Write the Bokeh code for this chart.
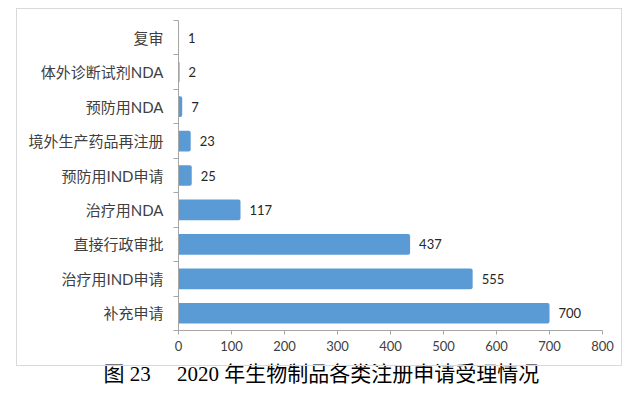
from bokeh.plotting import figure
from bokeh.models import Range1d, FixedTicker, Title, InlineStyleSheet
from bokeh.core.properties import value
from bokeh.embed import file_html
from bokeh.resources import INLINE

# categories listed top to bottom as in the chart
categories = ["复审", "体外诊断试剂NDA", "预防用NDA", "境外生产药品再注册", "预防用IND申请",
              "治疗用NDA", "直接行政审批", "治疗用IND申请", "补充申请"]
counts = [1, 2, 7, 23, 25, 117, 437, 555, 700]
x_ticks = [0, 100, 200, 300, 400, 500, 600, 700, 800]
caption = "图 23\u3000 2020 年生物制品各类注册申请受理情况"

n = len(categories)
ypos = [n - i for i in range(n)]

FL, FB = 178, 330  # frame left / bottom in canvas pixels

p = figure(width=638, height=393, output_backend="svg", toolbar_location=None,
           x_range=Range1d(0, 800), y_range=Range1d(0.5, n + 0.5),
           min_border_left=FL, min_border_right=36, min_border_top=20, min_border_bottom=393 - FB)
p.outline_line_color = None
p.xgrid.visible = False
p.ygrid.visible = False
p.background_fill_color = "white"
p.border_fill_color = "white"

bar_color = "#5B9BD5"
p.hbar(y=ypos, right=counts, left=0, height=0.6, color=bar_color, line_color=None,
       border_radius=(0, 2, 2, 0))
p.text(x=counts, y=ypos, text=[str(c) for c in counts], x_offset=9,
       text_baseline="middle", text_align="left", text_font=value("Lato"),
       text_font_size="13px", text_color="#262626")

axis_gray = "#A6A6A6"
xa = p.xaxis[0]
xa.ticker = FixedTicker(ticks=x_ticks, minor_ticks=[])
xa.axis_line_color = axis_gray
xa.major_tick_line_color = axis_gray
xa.major_tick_out = 4
xa.major_tick_in = 0
xa.minor_tick_line_color = None
xa.major_label_text_font = "Lato"
xa.major_label_text_font_size = "13px"
xa.major_label_text_color = "#404040"
xa.major_label_standoff = 6

ya = p.yaxis[0]
ya.ticker = FixedTicker(ticks=ypos, minor_ticks=[k + 0.5 for k in range(n + 1)])
ya.major_label_overrides = {y: c for y, c in zip(ypos, categories)}
ya.axis_line_color = axis_gray
ya.major_tick_line_color = None
ya.major_tick_out = 0
ya.major_tick_in = 0
ya.minor_tick_line_color = axis_gray
ya.minor_tick_out = 5
ya.minor_tick_in = 0
ya.major_label_text_font = "Lato, 'Noto Sans CJK SC'"
ya.major_label_text_font_size = "15px"
ya.major_label_text_color = "#404040"
ya.major_label_standoff = 10

cap = Title(text=caption, align="left", offset=-75,
            text_font="'Liberation Serif', 'Noto Sans CJK SC'",
            text_font_size="21px", text_font_style="normal", text_color="#000000",
            standoff=13)
p.add_layout(cap, "below")

# light grey frame around the chart area (decoration only, does not affect layout)
p.stylesheets = [InlineStyleSheet(css="""
:host::after {
  content: ""; position: absolute; left: 16px; top: 8px; width: 604px; height: 356px;
  border: 1.5px solid #D9D9D9; pointer-events: none;
}
""")]

open("out.html", "w").write(file_html(p, INLINE))
